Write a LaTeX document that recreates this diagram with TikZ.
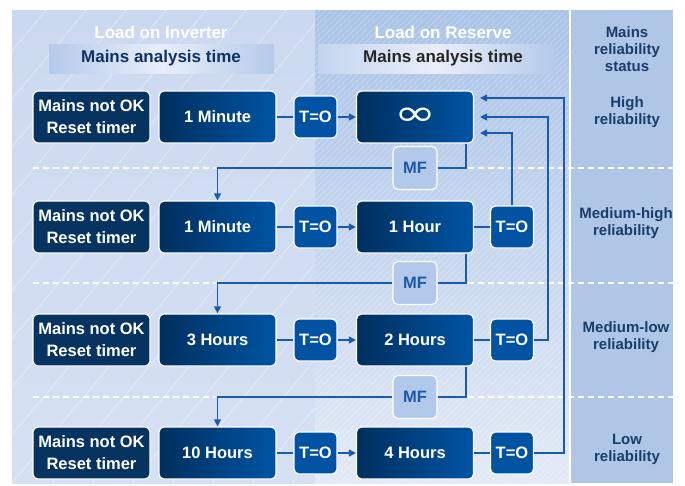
\documentclass[tikz,border=0pt]{standalone}
\usepackage{fontspec}
\usepackage{graphicx}
\setmainfont{Liberation Sans}
\newfontfamily\symfont{DejaVu Sans}
\usetikzlibrary{arrows.meta}
\definecolor{leftTop}{HTML}{CBD9F0}
\definecolor{leftBot}{HTML}{D6E0F3}
\definecolor{midTop}{HTML}{AAC3E7}
\definecolor{midBot}{HTML}{E3EAF6}
\definecolor{rightbg}{HTML}{AFC6E7}
\definecolor{bandEdge}{HTML}{B4CAEA}
\definecolor{bandMid}{HTML}{E8EEF9}
\definecolor{navy}{HTML}{06335F}
\definecolor{gradL}{HTML}{002F5E}
\definecolor{gradR}{HTML}{0054A4}
\definecolor{tblue}{HTML}{0052A2}
\definecolor{mfblue}{HTML}{B2C9EB}
\definecolor{mftext}{HTML}{1D5AA6}
\definecolor{conn}{HTML}{1B5BAA}
\definecolor{stattext}{HTML}{1B3D6B}
\definecolor{headtext}{HTML}{0E3362}
\tikzset{
  box/.style={draw=white, line width=1.2pt, rounded corners=5pt, text=white,
    font=\bfseries\fontsize{16.5}{22}\selectfont, align=center, inner sep=0pt,
    minimum height=52pt},
  mnobox/.style={box, fill=navy, minimum width=117pt},
  timebox/.style={box, left color=gradL, right color=gradR, minimum width=117pt},
  tzero/.style={box, fill=tblue, minimum width=43pt, minimum height=42pt},
  mfbox/.style={box, fill=mfblue, text=mftext, minimum width=44pt, minimum height=43pt},
  wire/.style={draw=conn, line width=1.3pt},
  arr/.style={wire, -{Triangle[length=7pt,width=7pt]}},
  sep/.style={draw=white, line width=1.8pt, dash pattern=on 6pt off 4pt},
  stat/.style={text=stattext, font=\bfseries\fontsize{15}{17}\selectfont, align=center},
  head/.style={text=white, font=\bfseries\fontsize{17}{20}\selectfont},
  bandtext/.style={font=\bfseries\fontsize{17}{20}\selectfont}
}
\begin{document}
\begin{tikzpicture}[x=1pt,y=-1pt]
\useasboundingbox (0,0) rectangle (685,485);
\fill[white] (0,0) rectangle (685,485);
% panels
\shade[top color=leftTop, bottom color=leftBot] (12,10) rectangle (315,483);
\shade[top color=midTop, bottom color=midBot] (315,10) rectangle (569,483);
\fill[rightbg] (571,10) rectangle (673,483);
\fill[white] (569,10) rectangle (571,483);
% left hatch
\begin{scope}
\clip (12,10) rectangle (315,483);
\foreach \i in {-12,...,10} \draw[white, opacity=0.55, line width=0.5pt] (12+\i*40,483) -- ++(400,-480);
\end{scope}
% middle hatch
\begin{scope}
\clip (315,10) rectangle (569,483);
\foreach \i in {0,...,125} \draw[white, opacity=0.35, line width=0.5pt] (-165+\i*6,483) -- ++(480,-480);
\end{scope}
% headers
\shade[left color=bandEdge, right color=bandEdge, middle color=bandMid] (49,44) rectangle (274,73);
\shade[left color=bandEdge!80!white, right color=bandEdge, middle color=bandMid] (318,44) rectangle (555,73);
\node[head] (hinv) at (161,32) {Load on Inverter};
\node[head] (hres) at (443,32) {Load on Reserve};
\node[bandtext, text=headtext] (binv) at (161,58) {Mains analysis time};
\node[bandtext, text=black!85] (bres) at (443,58) {Mains analysis time};
\node[stat] (hstat) at (627,49) {Mains\\reliability\\status};
\node[stat] (s1) at (627,112) {High\\reliability};
\node[stat] (s2) at (626,223) {Medium-high\\reliability};
\node[stat] (s3) at (626,337) {Medium-low\\reliability};
\node[stat] (s4) at (627,449) {Low\\reliability};
% separators
\foreach \y in {168,283,397} {
  \draw[sep] (33,\y) -- (216,\y);
  \draw[sep] (468,\y) -- (673,\y);
}
% row 1
\node[mnobox] (mno1) at (91.5,117) {Mains not OK\\Reset timer};
\node[timebox] (tm1) at (217.5,117) {1 Minute};
\node[tzero] (tl1) at (315.5,117) {T=O};
\node[timebox] (tr1) at (415,117) {\scalebox{1.4}[1]{\symfont\mdseries\fontsize{36}{36}\selectfont ∞}};
% row 2
\node[mnobox] (mno2) at (91.5,227) {Mains not OK\\Reset timer};
\node[timebox] (tm2) at (217.5,227) {1 Minute};
\node[tzero] (tl2) at (315.5,227) {T=O};
\node[timebox] (tr2) at (415,227) {1 Hour};
\node[tzero] (tro2) at (512,227) {T=O};
% row 3
\node[mnobox] (mno3) at (91.5,340) {Mains not OK\\Reset timer};
\node[timebox] (tm3) at (217.5,340) {3 Hours};
\node[tzero] (tl3) at (315.5,340) {T=O};
\node[timebox] (tr3) at (415,340) {2 Hours};
\node[tzero] (tro3) at (512,340) {T=O};
% row 4
\node[mnobox] (mno4) at (91.5,453) {Mains not OK\\Reset timer};
\node[timebox] (tm4) at (217.5,453) {10 Hours};
\node[tzero] (tl4) at (315.5,453) {T=O};
\node[timebox] (tr4) at (415,453) {4 Hours};
\node[tzero] (tro4) at (512,453) {T=O};
% MF
\node[mfbox] (mf1) at (415,168) {MF};
\node[mfbox] (mf2) at (415,283) {MF};
\node[mfbox] (mf3) at (415,397) {MF};
% connectors
\foreach \r in {1,2,3,4} {
  \draw[wire] (tm\r.east) -- (tl\r.west);
  \draw[arr] (tl\r.east) -- (tr\r.west);
}
\foreach \r in {2,3,4} \draw[wire] (tr\r.east) -- (tro\r.west);
\foreach \a/\b in {1/2,2/3,3/4} {
  \draw[wire] ([xshift=-8pt]tr\a.south east) |- (mf\a.east);
  \draw[arr] (mf\a.west) -| (tm\b.north);
}
\draw[arr, shorten >=6pt] (tro2.north) |- ([yshift=-16pt]tr1.east);
\draw[arr, shorten >=6pt] (tro3.east) -- ++(14,0) |- (tr1.east);
\draw[arr, shorten >=6pt] (tro4.east) -- ++(30,0) |- ([yshift=19pt]tr1.east);
\end{tikzpicture}
\end{document}
